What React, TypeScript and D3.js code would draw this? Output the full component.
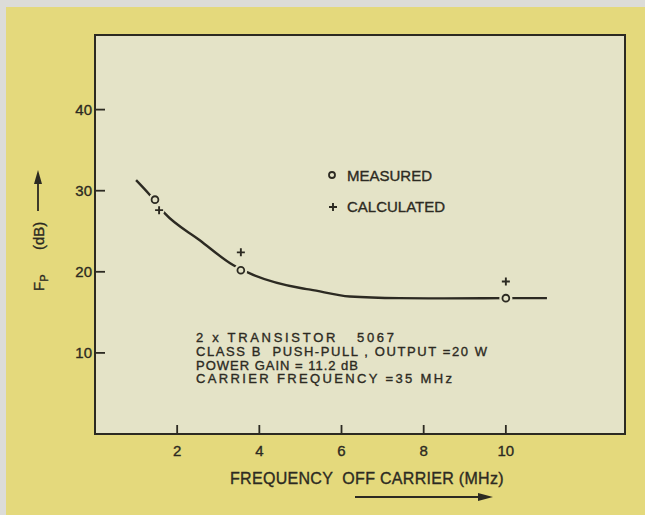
import React from "react";
import * as d3 from "d3";

// ---- data ----
const xTicks = [2, 4, 6, 8, 10];
const yTicks = [10, 20, 30, 40];

const curveX = [1.0, 1.33, 1.7, 2.55, 3.37, 3.77, 5.0, 5.24, 6.2, 7.4, 8.5, 10, 11];
const curveY = [31.3, 29.5, 27.2, 23.9, 20.8, 19.8, 18.0, 17.8, 16.95, 16.75, 16.72, 16.75, 16.75];

const measuredX = [1.46, 3.55, 10.0];
const measuredY = [28.9, 20.2, 16.75];

const calculatedX = [1.56, 3.55, 10.0];
const calculatedY = [27.6, 22.4, 18.8];

const legendLabels = ["MEASURED", "CALCULATED"];
const noteLines = [
  "2 x TRANSISTOR   5067",
  "CLASS B  PUSH-PULL , OUTPUT =20 W",
  "POWER GAIN = 11.2 dB",
  "CARRIER FREQUENCY =35 MHz",
];
const xTitle = "FREQUENCY  OFF CARRIER (MHz)";
const yTitleMain = "F";
const yTitleSub = "P";
const yTitleUnit = "(dB)";

// layout: rendered widths of the annotation lines
const noteWidths = [198, 291, 162, 256];

const W = 645;
const H = 515;
const INK = "#2c2a22";
const OUTER = "#e4d97c";
const INNER = "#e4e3c7";
const FONT = "'Liberation Sans', Arial, sans-serif";

export default function App() {
  const left = 95, right = 625, top = 35, bottom = 434;
  const x = d3.scaleLinear().domain([0, 12.9]).range([left, right]);
  const y = d3.scaleLinear().domain([0, 49.2]).range([bottom, top]);

  const curvePts: [number, number][] = curveX.map((v, i) => [v, curveY[i]]);
  const line = d3
    .line<[number, number]>()
    .x((d) => x(d[0]))
    .y((d) => y(d[1]))
    .curve(d3.curveMonotoneX);

  const plus = (cx: number, cy: number, s: number, key: string) => (
    <path
      key={key}
      d={`M${cx - s},${cy}H${cx + s}M${cx},${cy - s}V${cy + s}`}
      stroke={INK}
      strokeWidth={1.9}
      fill="none"
    />
  );

  const txt = { fontFamily: FONT, fill: INK, stroke: INK, strokeWidth: 0.35 };

  return (
    <svg
      width={W}
      height={H}
      style={{ position: "absolute", left: 0, top: 0, display: "block" }}
    >
      <rect x={0} y={0} width={W} height={H} fill="#dcdcd8" />
      <rect x={6} y={7} width={W - 6} height={H - 7} fill={OUTER} />
      <rect
        x={left}
        y={top}
        width={right - left}
        height={bottom - top}
        fill={INNER}
        stroke={INK}
        strokeWidth={2}
      />

      {/* x ticks */}
      {xTicks.map((t) => (
        <g key={"xt" + t}>
          <line x1={x(t)} x2={x(t)} y1={bottom} y2={bottom - 9} stroke={INK} strokeWidth={1.8} />
          <text x={x(t)} y={456} textAnchor="middle" fontSize={15} {...txt}>
            {t}
          </text>
        </g>
      ))}

      {/* y ticks */}
      {yTicks.map((t) => (
        <g key={"yt" + t}>
          <line x1={left} x2={left + 10} y1={y(t)} y2={y(t)} stroke={INK} strokeWidth={1.8} />
          <text x={92} y={y(t) + 5.5} textAnchor="end" fontSize={15} {...txt}>
            {t}
          </text>
        </g>
      ))}

      {/* curve */}
      <path d={line(curvePts) || ""} fill="none" stroke={INK} strokeWidth={2.4} />

      {/* halos to break the curve at markers */}
      {measuredX.map((v, i) => (
        <circle key={"hm" + i} cx={x(v)} cy={y(measuredY[i])} r={6.5} fill={INNER} />
      ))}
      {calculatedX.map((v, i) => (
        <circle key={"hc" + i} cx={x(v)} cy={y(calculatedY[i])} r={5.5} fill={INNER} />
      ))}

      {/* measured markers */}
      {measuredX.map((v, i) => (
        <circle
          key={"m" + i}
          cx={x(v)}
          cy={y(measuredY[i])}
          r={3.4}
          fill="none"
          stroke={INK}
          strokeWidth={1.8}
        />
      ))}
      {/* calculated markers */}
      {calculatedX.map((v, i) => plus(x(v), y(calculatedY[i]), 4, "c" + i))}

      {/* legend */}
      <circle cx={332} cy={175} r={3} fill="none" stroke={INK} strokeWidth={1.8} />
      <text x={347} y={180.5} fontSize={15} {...txt}>
        {legendLabels[0]}
      </text>
      {plus(333, 207, 4, "lp")}
      <text x={347} y={212} fontSize={15} {...txt}>
        {legendLabels[1]}
      </text>

      {/* annotation block */}
      {noteLines.map((s, i) => (
        <text
          key={"n" + i}
          x={196}
          y={342 + i * 13.8}
          fontSize={13}
          textLength={noteWidths[i]}
          lengthAdjust="spacing"
          {...txt}
          style={{ whiteSpace: "pre" }}
        >
          {s}
        </text>
      ))}

      {/* x title */}
      <text
        x={230}
        y={484}
        fontSize={16}
        letterSpacing={0.3}
        {...txt}
        style={{ whiteSpace: "pre" }}
      >
        {xTitle}
      </text>
      <line x1={355} x2={480} y1={497} y2={497} stroke={INK} strokeWidth={1.8} />
      <path d="M478,493 L493,497 L478,501 Z" fill={INK} />

      {/* y title */}
      <text transform="translate(44,291) rotate(-90)" fontSize={15} {...txt}>
        {yTitleMain}
        <tspan fontSize={11} dy={4}>
          {yTitleSub}
        </tspan>
      </text>
      <text transform="translate(44,250) rotate(-90)" fontSize={15} {...txt}>
        {yTitleUnit}
      </text>
      <line x1={38} x2={38} y1={211} y2={182} stroke={INK} strokeWidth={1.8} />
      <path d="M34,184 L38,170 L42,184 Z" fill={INK} />
    </svg>
  );
}
